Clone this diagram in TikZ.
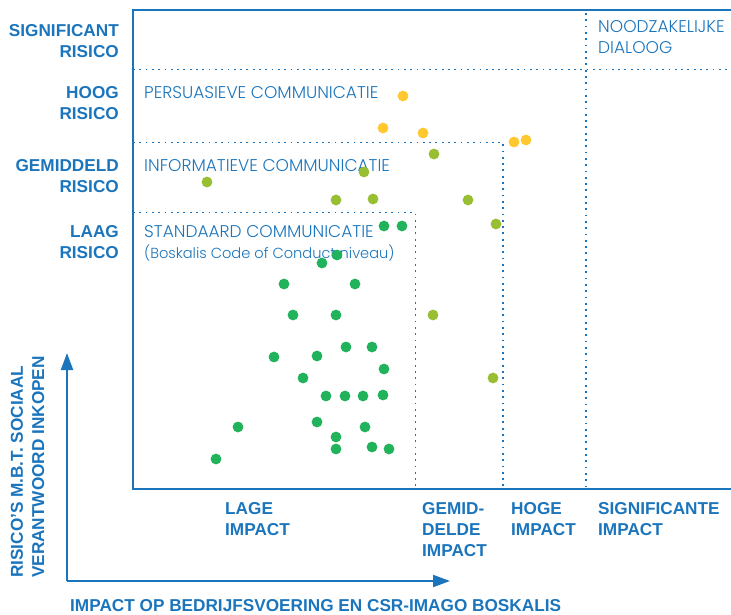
\documentclass[tikz,border=0pt]{standalone}
\usepackage{fontspec}
\setmainfont{Liberation Sans}
\newfontfamily\thinfont{Poppins Light}
\usetikzlibrary{arrows.meta}

\definecolor{csrblue}{HTML}{1B75BC}
\definecolor{dotyellow}{HTML}{FFC82E}
\definecolor{dotolive}{HTML}{98BF32}
\definecolor{dotgreen}{HTML}{21B35B}

\tikzset{
  grid/.style={csrblue, line width=1.8pt, dash pattern=on 1.8pt off 4.5pt},
  axislabel/.style={csrblue, font=\fontsize{17.2}{21}\selectfont\bfseries, inner sep=0pt},
  zonelabel/.style={csrblue, font=\fontsize{17}{21}\thinfont, inner sep=0pt, align=left, anchor=base west},
}

\begin{document}
\begin{tikzpicture}[x=1pt, y=-1pt, >={Triangle[length=17pt, width=12pt]}]
    \useasboundingbox (0,0) rectangle (731,614);

    % frame
    \draw[csrblue, line width=1.5pt] (731,10) -- (133,10) -- (133,489) -- (731,489);

    % zones
    \draw[grid] (133,69.5) -- (731,69.5);
    \draw[grid] (133,142.5) -- (503,142.5) -- (503,489);
    \draw[grid] (133,212.5) -- (415.5,212.5) -- (415.5,489);
    \draw[grid] (586,13) -- (586,489);

    % axes
    \draw[->, csrblue, line width=2pt] (67,581) -- (67,353);
    \draw[->, csrblue, line width=2pt] (67,581) -- (450,581);

    % risico (base = last line)
    \node[axislabel, align=right, anchor=base east] (sign) at (119,57) {SIGNIFICANT\\RISICO};
    \node[axislabel, align=right, anchor=base east] (hoog) at (119,119) {HOOG\\RISICO};
    \node[axislabel, align=right, anchor=base east] (gem) at (119,192) {GEMIDDELD\\RISICO};
    \node[axislabel, align=right, anchor=base east] (laag) at (119,258) {LAAG\\RISICO};

    % impact
    \node[axislabel, align=left, anchor=base west] (lage) at (225,535) {LAGE\\IMPACT};
    \node[axislabel, align=left, anchor=base west] (gemid) at (422,556) {GEMID-\\DELDE\\IMPACT};
    \node[axislabel, align=left, anchor=base west] (hoge) at (511,535) {HOGE\\IMPACT};
    \node[axislabel, align=left, anchor=base west] (signi) at (598,535) {SIGNIFICANTE\\IMPACT};

    \node[axislabel, anchor=base west] (xlabel) at (70,611) {IMPACT OP BEDRIJFSVOERING EN CSR-IMAGO BOSKALIS};
    \node[axislabel, align=left, anchor=base west, rotate=90] (ylabel) at (44,578) {RISICO'S M.B.T. SOCIAAL\\VERANTWOORD INKOPEN};

    % communicatie
    \node[zonelabel] (pers) at (144,98) {PERSUASIEVE COMMUNICATIE};
    \node[zonelabel] (info) at (144,171) {INFORMATIEVE COMMUNICATIE};
    \node[zonelabel] (stand) at (144,258) {STANDAARD COMMUNICATIE\\{\fontsize{14.6}{21}\selectfont(Boskalis Code of Conduct niveau)}};
    \node[zonelabel] (dialoog) at (598,53) {NOODZAKELIJKE\\DIALOOG};

    % leveranciers
    \foreach \x/\y in {403/96, 383/128, 423/133, 514/142, 526/140}
        \fill[dotyellow] (\x,\y) circle (5.4);
    \foreach \x/\y in {434/154, 364/172, 207/182, 336/200, 373/199, 468/200, 496/224, 433/315, 493/378}
        \fill[dotolive] (\x,\y) circle (5.4);
    \foreach \x/\y in {384/226, 402/226, 337/255, 322/263, 284/284, 355/284, 293/315, 336/315,
                       346/347, 372/347, 274/357, 317/356, 384/369, 303/378, 326/396, 345/396,
                       363/396, 383/395, 238/427, 317/422, 365/427, 336/437, 336/449, 372/447,
                       389/449, 216/459}
        \fill[dotgreen] (\x,\y) circle (5.4);

\end{tikzpicture}
\end{document}
